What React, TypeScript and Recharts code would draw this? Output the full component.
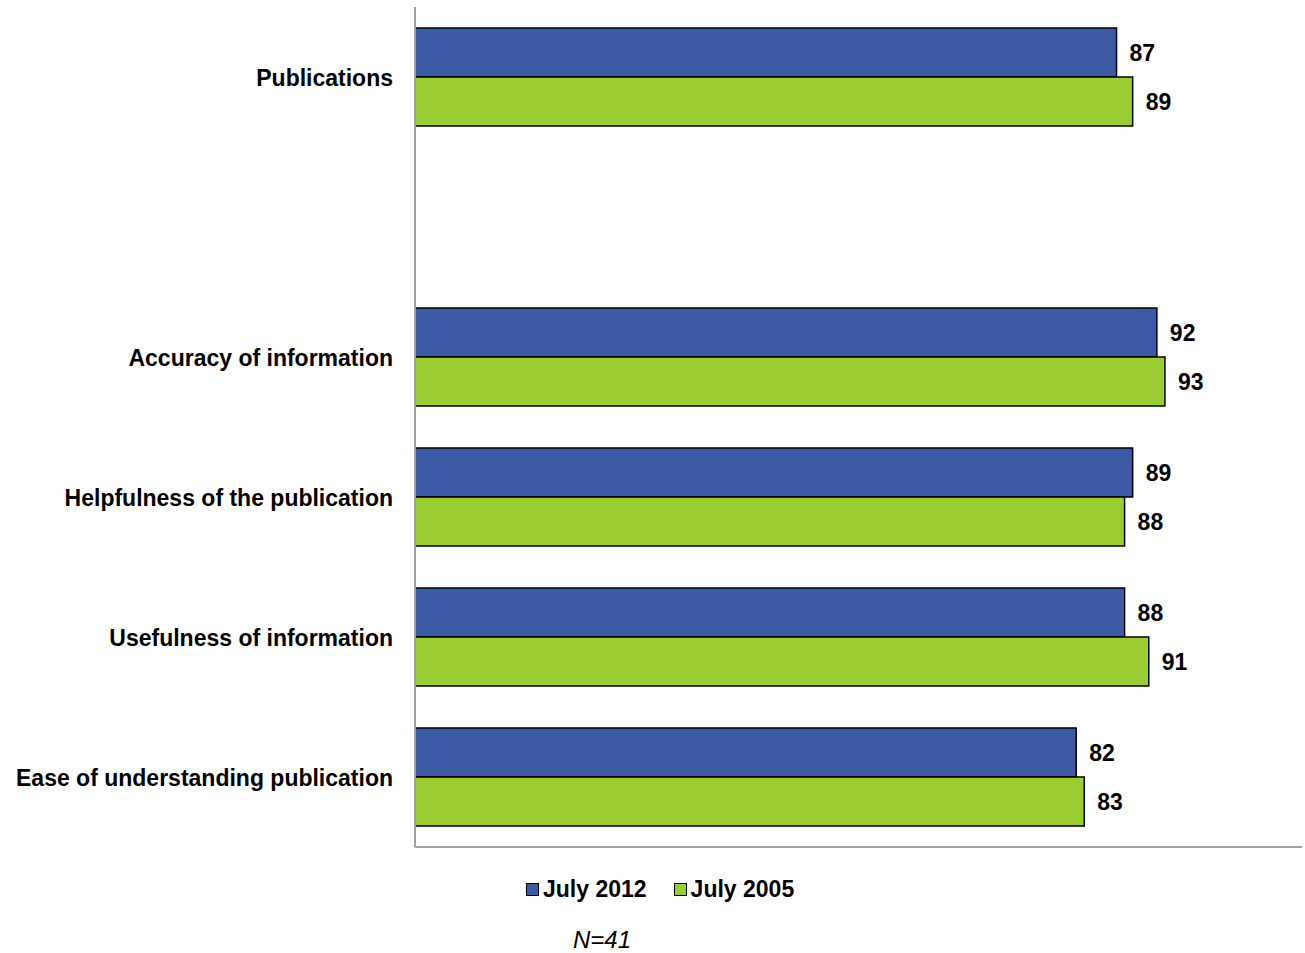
import { BarChart, Bar, XAxis, YAxis, LabelList } from "recharts";

const categories = [
  "Publications",
  "",
  "Accuracy of information",
  "Helpfulness of the publication",
  "Usefulness of information",
  "Ease of understanding publication",
];
const july2012 = [87, null, 92, 89, 88, 82];
const july2005 = [89, null, 93, 88, 91, 83];

const BLUE = "#3D5AA4";
const GREEN = "#9ACD32";
const FONT = "'Liberation Sans', Arial, sans-serif";

const data = categories.map((name, i) => ({
  name,
  y2012: july2012[i],
  y2005: july2005[i],
}));

const labelStyle = { fontFamily: FONT, fontSize: 23, fontWeight: 700, fill: "#000" };

export default function App() {
  return (
    <div style={{ position: "absolute", left: 0, top: 0, width: 1305, height: 953, background: "#fff", overflow: "hidden" }}>
      <BarChart
        width={1305}
        height={953}
        data={data}
        layout="vertical"
        margin={{ top: 7, right: 3, bottom: 96, left: 0 }}
        barGap={0}
        barSize={49}
      >
        <XAxis
          type="number"
          domain={[0, 110]}
          height={10}
          tick={false}
          tickLine={false}
          axisLine={{ stroke: "#A0A0A0", strokeWidth: 2 }}
        />
        <YAxis
          type="category"
          dataKey="name"
          width={415}
          interval={0}
          tickLine={false}
          tickSize={0}
          tickMargin={22}
          axisLine={{ stroke: "#A0A0A0", strokeWidth: 2 }}
          tick={{ ...labelStyle, dy: 1 }}
        />
        <Bar dataKey="y2012" fill={BLUE} stroke="#000" strokeWidth={1.5} isAnimationActive={false}>
          <LabelList dataKey="y2012" position="right" offset={13} style={labelStyle} />
        </Bar>
        <Bar dataKey="y2005" fill={GREEN} stroke="#000" strokeWidth={1.5} isAnimationActive={false}>
          <LabelList dataKey="y2005" position="right" offset={13} style={labelStyle} />
        </Bar>
      </BarChart>

      {/* Legend */}
      <div
        style={{
          position: "absolute",
          top: 875,
          left: 526,
          display: "flex",
          alignItems: "center",
          fontFamily: FONT,
          fontSize: 23,
          fontWeight: 700,
          color: "#000",
          lineHeight: "28px",
        }}
      >
        <span style={{ width: 11, height: 11, background: BLUE, border: "1px solid #000", marginRight: 4 }} />
        <span style={{ marginRight: 27 }}>July 2012</span>
        <span style={{ width: 11, height: 11, background: GREEN, border: "1px solid #000", marginRight: 4 }} />
        <span>July 2005</span>
      </div>

      <div
        style={{
          position: "absolute",
          top: 928,
          left: 573,
          fontFamily: FONT,
          fontSize: 24,
          fontStyle: "italic",
          color: "#000",
          lineHeight: "24px",
        }}
      >
        N=41
      </div>
    </div>
  );
}
